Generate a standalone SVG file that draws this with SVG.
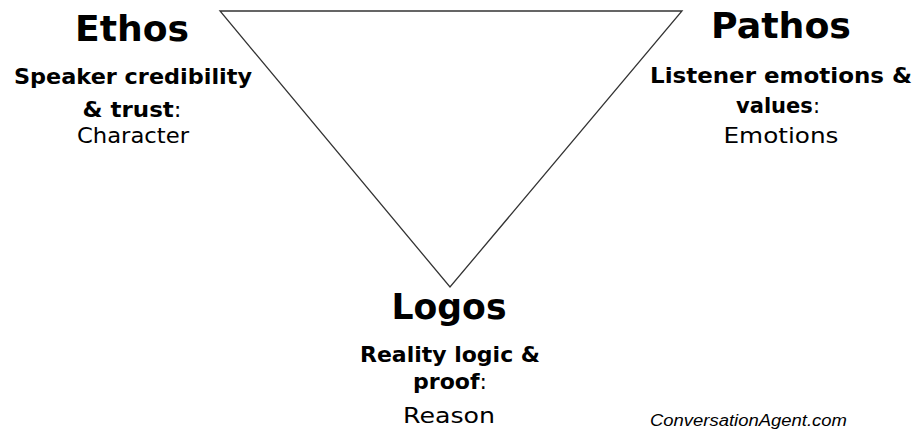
<svg xmlns="http://www.w3.org/2000/svg" width="914" height="430" viewBox="0 0 914 430">
<style>
.t{font-family:"DejaVu Sans","Liberation Sans",sans-serif;font-weight:bold;font-size:36px;fill:#000;text-anchor:middle}
.s{font-family:"DejaVu Sans","Liberation Sans",sans-serif;font-weight:bold;font-size:21px;fill:#000;text-anchor:middle}
.r{font-family:"DejaVu Sans","Liberation Sans",sans-serif;font-weight:normal;font-size:22px;fill:#000;text-anchor:middle}
.c{font-weight:normal}
.w{font-family:"Liberation Sans",sans-serif;font-style:italic;font-size:16px;fill:#000}
.edge{fill:none;stroke:#333;stroke-width:1.3;stroke-linejoin:miter}
</style>
<rect width="914" height="430" fill="#fff"/>
<g id="connectors">
<polygon class="edge" points="220,11 682,11 450,287"/>
</g>
<g id="ethos">
<text class="t" x="132" y="41" textLength="114" lengthAdjust="spacingAndGlyphs">Ethos</text>
<text class="s" x="133" y="84" textLength="238" lengthAdjust="spacingAndGlyphs">Speaker credibility</text>
<text class="s" x="132" y="117" textLength="99" lengthAdjust="spacingAndGlyphs">&amp; trust<tspan class="c">:</tspan></text>
<text class="r" x="133" y="143" textLength="112" lengthAdjust="spacingAndGlyphs">Character</text>
</g>
<g id="pathos">
<text class="t" x="781" y="38" textLength="140" lengthAdjust="spacingAndGlyphs">Pathos</text>
<text class="s" x="781" y="83" textLength="262" lengthAdjust="spacingAndGlyphs">Listener emotions &amp;</text>
<text class="s" x="778" y="113" textLength="84" lengthAdjust="spacingAndGlyphs">values<tspan class="c">:</tspan></text>
<text class="r" x="781" y="143" textLength="115" lengthAdjust="spacingAndGlyphs">Emotions</text>
</g>
<g id="logos">
<text class="t" x="449" y="319" textLength="115" lengthAdjust="spacingAndGlyphs">Logos</text>
<text class="s" x="450" y="362" textLength="180" lengthAdjust="spacingAndGlyphs">Reality logic &amp;</text>
<text class="s" x="450" y="389" textLength="74" lengthAdjust="spacingAndGlyphs">proof<tspan class="c">:</tspan></text>
<text class="r" x="449" y="423" textLength="92" lengthAdjust="spacingAndGlyphs">Reason</text>
</g>
<text class="w" x="650" y="426" textLength="197" lengthAdjust="spacingAndGlyphs">ConversationAgent.com</text>
</svg>
